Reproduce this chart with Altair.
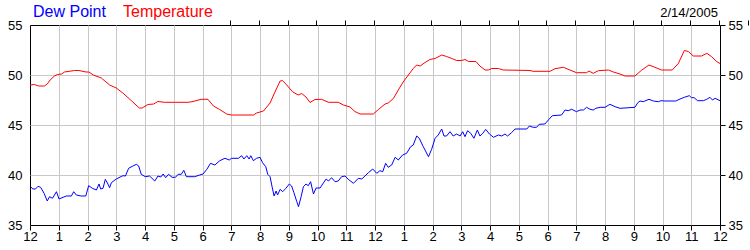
import altair as alt
import pandas as pd

FONT = "Liberation Sans"

series_names = ["Dew Point", "Temperature"]
series_colors = ["#0000FF", "#FF0000"]
date_label = ["2/14/2005"]

hour_ticks = list(range(25))
y_ticks = [35, 40, 45, 50, 55]

temp_hours = [0.00, 0.15, 0.30, 0.50, 0.60, 0.70, 0.85, 0.95, 1.10, 1.20, 1.55, 1.70, 1.95, 2.05,
              2.20, 2.48, 2.77, 3.00, 3.23, 3.52, 3.80, 3.90, 4.10, 4.30, 4.45, 4.68, 5.03, 5.50,
              5.67, 5.95, 6.19, 6.38, 6.60, 6.84, 7.00, 7.77, 7.88, 8.12, 8.35, 8.52, 8.70, 8.78,
              8.93, 9.14, 9.33, 9.45, 9.60, 9.74, 9.91, 10.14, 10.38, 10.72, 10.90, 11.13, 11.30,
              11.48, 11.94, 12.12, 12.35, 12.46, 12.64, 12.81, 12.98, 13.16, 13.33, 13.45, 13.57,
              13.74, 13.91, 14.09, 14.32, 14.49, 14.67, 14.84, 15.02, 15.13, 15.25, 15.51, 15.65,
              15.83, 15.94, 16.06, 16.29, 16.46, 17.39, 17.50, 18.09, 18.26, 18.55, 18.78, 19.01,
              19.36, 19.44, 19.59, 19.77, 20.12, 20.29, 20.52, 20.70, 21.04, 21.28, 21.53, 21.74,
              21.97, 22.34, 22.55, 22.76, 22.90, 23.07, 23.36, 23.54, 23.71, 23.88, 24.00]
temp_values = [49.0, 49.05, 48.9, 48.9, 49.1, 49.5, 49.9, 50.05, 50.1, 50.3, 50.45, 50.45, 50.3, 50.3,
               50.0, 49.7, 49.0, 48.7, 48.2, 47.45, 46.7, 46.7, 47.05, 47.1, 47.35, 47.27, 47.27, 47.27,
               47.35, 47.57, 47.57, 46.9, 46.55, 46.1, 46.0, 46.0, 46.2, 46.4, 47.2, 48.3, 49.4, 49.45,
               49.0, 48.3, 48.0, 48.15, 47.8, 47.25, 47.55, 47.57, 47.27, 47.27, 47.0, 46.8, 46.35,
               46.1, 46.1, 46.55, 47.1, 47.2, 47.65, 48.5, 49.3, 50.0, 50.65, 51.0, 50.9,
               51.25, 51.55, 51.65, 52.0, 51.85, 51.65, 51.45, 51.45, 51.55, 51.35, 51.35, 50.9,
               50.5, 50.5, 50.65, 50.65, 50.5, 50.45, 50.37, 50.37, 50.63, 50.77, 50.5, 50.23,
               50.23, 50.4, 50.17, 50.43, 50.5, 50.3, 50.1, 49.9, 49.9, 50.5, 51.0, 50.77,
               50.5, 50.5, 51.15, 52.45, 52.35, 51.9, 51.9, 52.17, 51.83, 51.35, 51.15]

dew_hours = [0.02, 0.10, 0.19, 0.28, 0.37, 0.49, 0.60, 0.68, 0.78, 0.83, 0.92, 1.01, 1.15, 1.26,
             1.44, 1.52, 1.61, 1.78, 1.94, 2.04, 2.17, 2.31, 2.40, 2.46, 2.54, 2.62, 2.71, 2.77,
             2.83, 3.00, 3.23, 3.32, 3.43, 3.58, 3.70, 3.78, 3.87, 4.01, 4.16, 4.34, 4.45, 4.55,
             4.63, 4.72, 4.82, 4.94, 5.06, 5.15, 5.26, 5.35, 5.44, 5.73, 5.90, 6.02, 6.15, 6.28,
             6.43, 6.60, 6.78, 6.93, 7.01, 7.25, 7.36, 7.44, 7.54, 7.62, 7.68, 7.77, 7.88, 8.00,
             8.09, 8.20, 8.27, 8.35, 8.42, 8.49, 8.56, 8.61, 8.70, 8.79, 8.90, 9.02, 9.10, 9.18,
             9.28, 9.34, 9.43, 9.51, 9.60, 9.68, 9.76, 9.86, 9.95, 10.09, 10.18, 10.30, 10.38,
             10.49, 10.61, 10.72, 10.84, 10.96, 11.07, 11.25, 11.42, 11.54, 11.65, 11.77, 11.92,
             12.06, 12.17, 12.27, 12.37, 12.46, 12.58, 12.70, 12.81, 12.96, 13.10, 13.24, 13.33,
             13.45, 13.54, 13.68, 13.86, 13.97, 14.09, 14.20, 14.32, 14.40, 14.49, 14.61, 14.72,
             14.84, 14.96, 15.05, 15.13, 15.22, 15.33, 15.44, 15.56, 15.65, 15.75, 15.85, 15.98,
             16.12, 16.29, 16.41, 16.52, 16.61, 16.75, 16.87, 17.28, 17.37, 17.50, 17.62, 17.71,
             17.91, 18.05, 18.17, 18.49, 18.61, 18.72, 18.84, 19.01, 19.13, 19.25, 19.36, 19.48,
             19.59, 19.68, 19.83, 20.00, 20.17, 20.35, 20.52, 21.04, 21.14, 21.22, 21.33, 21.53,
             21.68, 21.86, 21.95, 22.09, 22.46, 22.61, 22.76, 22.93, 23.01, 23.10, 23.22, 23.42,
             23.54, 23.65, 23.74, 23.83, 24.00]
dew_values = [38.83, 38.6, 38.6, 38.87, 38.77, 38.17, 37.4, 37.83, 37.67, 37.9, 38.33, 37.6, 37.77, 37.9,
              37.9, 38.33, 38.0, 37.9, 37.9, 38.93, 38.67, 38.5, 39.1, 38.6, 38.67, 39.57, 39.1, 38.73,
              39.23, 39.6, 39.93, 39.9, 40.67, 40.9, 41.07, 40.9, 40.07, 39.83, 39.9, 39.4, 39.9, 39.8,
              40.1, 39.73, 40.07, 39.77, 39.77, 40.07, 40.07, 40.47, 39.83, 39.83, 40.0, 40.1, 40.57, 41.17,
              41.0, 41.43, 41.67, 41.5, 41.67, 41.67, 41.93, 41.6, 41.93, 41.6, 41.93, 41.43, 41.67, 41.77,
              41.23, 40.83, 40.07, 39.83, 38.83, 37.9, 38.4, 38.0, 38.57, 38.33, 38.67, 39.1, 38.9, 38.23,
              37.33, 36.83, 37.83, 38.83, 39.1, 38.93, 39.33, 38.1, 38.7, 38.7, 39.1, 39.6, 39.4,
              39.73, 39.33, 39.4, 39.83, 39.9, 39.57, 39.17, 39.67, 39.6, 39.9, 40.23, 40.6,
              40.17, 40.43, 40.33, 41.17, 40.77, 41.0, 41.77, 41.5, 42.0, 42.17, 42.83, 43.0,
              43.9, 43.67, 42.83, 41.83, 42.57, 43.67, 44.0, 44.6, 43.9, 43.9, 44.33, 43.9,
              44.1, 43.9, 44.33, 43.83, 44.43, 44.17, 43.67, 44.5, 43.9, 44.17, 44.57, 44.1,
              43.77, 44.0, 43.9, 44.1, 43.9, 44.23, 44.6, 44.6, 44.9, 44.77, 44.77, 45.07,
              45.1, 45.57, 45.93, 46.0, 46.5, 46.43, 46.57, 46.33, 46.5, 46.5, 46.77, 46.57,
              46.5, 46.67, 46.77, 46.77, 47.07, 46.83, 46.67, 46.77, 47.23, 47.4, 47.33, 47.57,
              47.4, 47.33, 47.43, 47.4, 47.4, 47.6, 47.77, 47.93, 47.73, 47.73, 47.43, 47.43,
              47.57, 47.77, 47.5, 47.67, 47.43]

df = pd.concat([
    pd.DataFrame({"hour": dew_hours, "value": dew_values, "series": series_names[0]}),
    pd.DataFrame({"hour": temp_hours, "value": temp_values, "series": series_names[1]}),
], ignore_index=True)

xs = alt.Scale(domain=[0, 24], nice=False, zero=False)
ys = alt.Scale(domain=[35, 55], nice=False, zero=False)
label_expr = "datum.value % 12 == 0 ? '12' : '' + (datum.value % 12)"
GRID = "#c8c8c8"

base = alt.Chart(df)

lines = base.mark_line(strokeWidth=1).encode(
    x=alt.X("hour:Q", scale=xs, title=None,
            axis=alt.Axis(orient="bottom", values=hour_ticks, labelExpr=label_expr,
                          grid=True, gridColor=GRID,
                          gridOpacity={"condition": {"test": "datum.value == 0 || datum.value == 24", "value": 0}, "value": 1},
                          ticks=False, domain=False, labelPadding=5, labelFlush=False,
                          labelOverlap=False, labelFontSize=13, labelFont=FONT, labelColor="black")),
    y=alt.Y("value:Q", scale=ys, title=None,
            axis=alt.Axis(orient="left", values=y_ticks, grid=True, gridColor=GRID,
                          gridOpacity={"condition": {"test": "datum.value == 35 || datum.value == 55", "value": 0}, "value": 1},
                          ticks=False, domain=False, labelPadding=8, labelFontSize=13,
                          labelFont=FONT, labelColor="black", labelBaseline="middle")),
    color=alt.Color("series:N", scale=alt.Scale(domain=series_names, range=series_colors), legend=None),
)

ax2 = base.mark_line(opacity=0).encode(
    x=alt.X("hour:Q", scale=xs, title=None,
            axis=alt.Axis(orient="top", position=200, offset=0, values=hour_ticks, labels=False,
                          grid=False, domain=False, ticks=True, tickSize=5, tickColor="black")),
    y=alt.Y("value:Q", scale=ys, title=None,
            axis=alt.Axis(orient="right", offset=0, values=y_ticks, grid=False, ticks=False, domain=False,
                          labelPadding=8, labelFontSize=13, labelFont=FONT, labelColor="black",
                          labelBaseline="middle")),
    detail="series:N",
)

ax3 = base.mark_line(opacity=0).encode(
    x=alt.X("hour:Q", scale=xs, title=None,
            axis=alt.Axis(orient="bottom", position=0, offset=0, values=hour_ticks, labels=False,
                          grid=False, domain=False, ticks=True, tickSize=5, tickColor="black")),
    y=alt.Y("value:Q", scale=ys, title=None,
            axis=alt.Axis(orient="right", position=0, offset=0, values=y_ticks, labels=False,
                          grid=False, domain=False, ticks=True, tickSize=5, tickColor="black")),
    detail="series:N",
)

ax4 = base.mark_line(opacity=0).encode(
    x=alt.X("hour:Q", scale=xs, axis=None),
    y=alt.Y("value:Q", scale=ys, title=None,
            axis=alt.Axis(orient="left", position=690, offset=0, values=y_ticks, labels=False,
                          grid=False, domain=False, ticks=True, tickSize=5, tickColor="black")),
    detail="series:N",
)

t1 = alt.Chart(pd.DataFrame({"t": [series_names[0]]})).mark_text(
    align="left", baseline="alphabetic", fontSize=16, font=FONT, color=series_colors[0]
).encode(text="t:N", x=alt.value(3), y=alt.value(-8))

t2 = alt.Chart(pd.DataFrame({"t": [series_names[1]]})).mark_text(
    align="left", baseline="alphabetic", fontSize=16, font=FONT, color=series_colors[1]
).encode(text="t:N", x=alt.value(93), y=alt.value(-8))

t3 = alt.Chart(pd.DataFrame({"t": date_label})).mark_text(
    align="right", baseline="alphabetic", fontSize=13, font=FONT, color="black"
).encode(text="t:N", x=alt.value(688), y=alt.value(-8))

chart = alt.layer(lines, ax2, ax3, ax4, t1, t2, t3).resolve_axis(
    x="independent", y="independent"
).properties(
    width=690, height=200,
    padding={"left": 30, "top": 25, "right": 30, "bottom": 25},
    autosize=alt.AutoSizeParams(type="none"),
).configure_view(stroke="black", strokeWidth=1)

chart.save("out.html", embed_options={"renderer": "svg", "actions": False})
